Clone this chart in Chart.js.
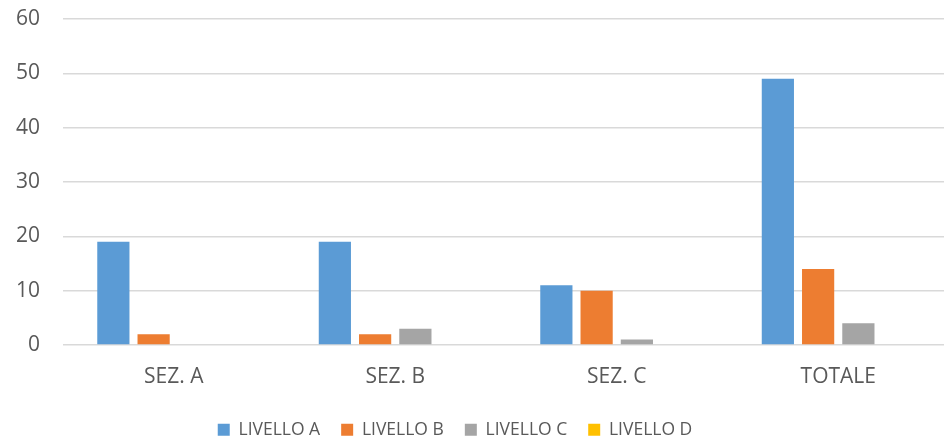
<!DOCTYPE html>
<html><head><meta charset="utf-8">
<script src="https://cdn.jsdelivr.net/npm/chart.js@4/dist/chart.umd.min.js"></script>
<style>html,body{margin:0;padding:0;background:#fff}#wrap{width:944px;height:440px;position:relative}</style>
</head><body><div id="wrap"><canvas id="c" width="944" height="440"></canvas></div>
<script>
const categories = ["SEZ. A", "SEZ. B", "SEZ. C", "TOTALE"];
const seriesNames = ["LIVELLO A", "LIVELLO B", "LIVELLO C", "LIVELLO D"];
const livelloA = [19, 19, 11, 49];
const livelloB = [2, 2, 10, 14];
const livelloC = [0, 3, 1, 4];
const livelloD = [0, 0, 0, 0];
const yTicks = [0, 10, 20, 30, 40, 50, 60];
const colors = ["#5B9BD5", "#ED7D31", "#A5A5A5", "#FFC000"];

const values = [livelloA, livelloB, livelloC, livelloD];
const tickFont = {family: "'Open Sans', sans-serif", size: 21};
const legendFont = {family: "'Open Sans', sans-serif", size: 17.5};

const layoutTweaks = {
  id: 'layoutTweaks',
  afterInit(chart) {
    const lg = chart.legend;
    if (!lg) return;
    const orig = lg.fit.bind(lg);
    lg.fit = function () { orig(); this.height = 51; };
  },
  afterLayout(chart) {
    const lg = chart.legend;
    if (lg) { lg.top += 11; lg.bottom += 11; lg.left -= 17; lg.right -= 17; }
    const x = chart.scales.x;
    if (x) { x.right += 5; x.width += 5; x.configure(); }
    chart.chartArea.right += 5; chart.chartArea.width += 5;
  }
};

new Chart(document.getElementById('c'), {
  type: 'bar',
  data: {
    labels: categories,
    datasets: seriesNames.map((n, i) => ({
      label: n, data: values[i], backgroundColor: colors[i],
      borderWidth: 0, categoryPercentage: 0.727, barPercentage: 0.8
    }))
  },
  plugins: [layoutTweaks],
  options: {
    responsive: false, animation: false, maintainAspectRatio: false,
    layout: {padding: 0},
    plugins: {
      tooltip: {enabled: false},
      legend: {position: 'bottom', labels: {boxWidth: 12, boxHeight: 12, padding: 21, color: '#595959', font: legendFont}}
    },
    scales: {
      x: {grid: {display: false, drawTicks: false}, border: {display: false},
          afterFit: s => { s.paddingLeft = 0; s.paddingRight = 0; s.height = 44; },
          ticks: {color: '#595959', font: tickFont, padding: 19}},
      y: {min: 0, max: 60, afterBuildTicks: s => { s.ticks = yTicks.map(v => ({value: v})); },
          afterFit: s => { s.width = 63; s.paddingTop = 19; s.paddingBottom = 0; },
          grid: {color: '#D9D9D9', lineWidth: 1.5, drawTicks: false}, border: {display: false},
          ticks: {color: '#595959', font: tickFont, padding: 23}}
    }
  }
});
</script></body></html>
